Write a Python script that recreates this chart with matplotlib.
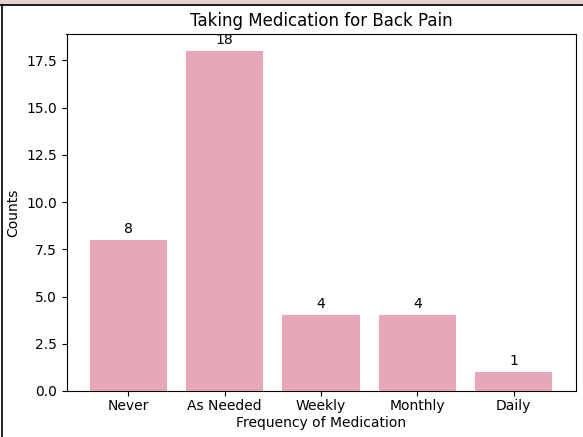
import matplotlib
matplotlib.use("Agg")
import matplotlib.pyplot as plt
from matplotlib.patches import Rectangle
from matplotlib.lines import Line2D

categories = ["Never", "As Needed", "Weekly", "Monthly", "Daily"]
counts = [8, 18, 4, 4, 1]

fig = plt.figure(figsize=(5.83, 4.37), dpi=100)
ax = fig.add_axes([66.5 / 583, 46 / 437, 509 / 583, 357 / 437])

bars = ax.bar(categories, counts, color="#e8a7b8")
for b, v in zip(bars, counts):
    ax.annotate(str(v), (b.get_x() + b.get_width() / 2, b.get_height()),
                xytext=(0, 3), textcoords="offset points",
                ha="center", va="bottom")

ax.set_title("Taking Medication for Back Pain")
ax.set_xlabel("Frequency of Medication", labelpad=2)
ax.set_ylabel("Counts")
ax.tick_params(axis="x", pad=2.5)

# screenshot frame
fig.patches.append(Rectangle((0, 1 - 4 / 437), 1, 4 / 437, transform=fig.transFigure,
                             color="#e6d0cc", zorder=0))
fig.lines.append(Line2D([0, 1], [1 - 4.5 / 437] * 2, transform=fig.transFigure,
                        color="black", lw=1.2))
fig.lines.append(Line2D([1.5 / 583] * 2, [0, 1 - 4.5 / 437], transform=fig.transFigure,
                        color="black", lw=1.2))

fig.savefig("out.png", dpi=100)
